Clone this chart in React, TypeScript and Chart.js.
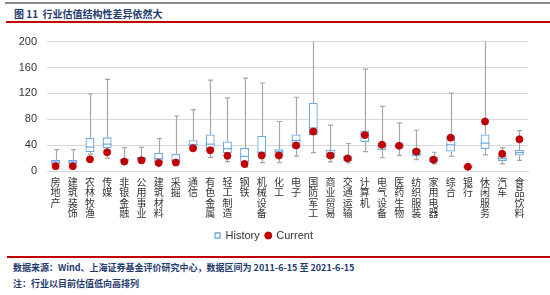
import React, { useEffect, useRef } from "react";
import { Chart, registerables } from "chart.js";

Chart.register(...registerables);

const categories = ["房地产","建筑装饰","农林牧渔","传媒","非银金融","公用事业","建筑材料","采掘","通信","有色金属","轻工制造","钢铁","机械设备","化工","电子","国防军工","商业贸易","交通运输","计算机","电气设备","医药生物","纺织服装","家用电器","综合","银行","休闲服务","汽车","食品饮料"];
const maxValues = [33,33,119,141.5,36,36.5,50,85,95,140.5,113,143.5,136,76.5,114,210,71,42.5,157.5,100,74.5,63,29,120.5,8.5,210,36,62.5];
const q3Values = [17.5,17,51,52,19,21.5,28,26.5,47.5,56.5,45.5,35.5,54.5,33.5,56.5,105,33,23,62.5,44,43,34,21.5,54,7.5,56.5,23,32.5];
const medianValues = [14,14,37,41.5,17,19,19,16.5,41,41.5,34.5,22.5,29,29.5,47,66.5,27.5,19.5,58,39,39,26.5,17.5,40.5,6.5,43,19,28.5];
const q1Values = [10,10.5,29,35,15,16.5,13,14,36.5,34,27.5,13,25,23.5,35,55.5,20,15.5,45,32.5,35,23,14,30,5,34,15,24];
const minValues = [8,8,26,20,14,14,12,12,33,21,14.5,5.5,13,13,23,28.5,14,12.5,30,20.5,24,17.5,11,22.5,5,25,11,16.5];
const currentValues = [7.5,7.5,18,29,14.5,16.5,12.5,13,35,32,23.5,11,24,24,39.5,61,24,19.5,55.5,40.5,39,30,17.5,51.5,6.5,76.5,26.5,49];
const yTicks = [0,20,40,60,80,100,120,140,160,180,200];

const BLUE = "#6FA8DC";
const RED = "#C00000";
const WHISKER = "#A6A6A6";

const boxPlugin = {
  id: "boxWhiskers",
  beforeDatasetsDraw(chart: any) {
    const { ctx, chartArea } = chart;
    const x = chart.scales.x;
    const y = chart.scales.y;
    ctx.save();
    ctx.beginPath();
    ctx.rect(chartArea.left, chartArea.top, chartArea.right - chartArea.left, chartArea.bottom - chartArea.top);
    ctx.clip();
    ctx.strokeStyle = WHISKER;
    ctx.lineWidth = 1.2;
    categories.forEach((_, i) => {
      const cx = Math.round(x.getPixelForValue(i)) + 0.5;
      const yMax = y.getPixelForValue(maxValues[i]);
      const yQ3 = y.getPixelForValue(q3Values[i]);
      const yQ1 = y.getPixelForValue(q1Values[i]);
      const yMin = y.getPixelForValue(minValues[i]);
      ctx.beginPath();
      ctx.moveTo(cx, yMax);
      ctx.lineTo(cx, yQ3);
      ctx.moveTo(cx, yQ1);
      ctx.lineTo(cx, yMin);
      ctx.moveTo(cx - 2.5, yMax);
      ctx.lineTo(cx + 2.5, yMax);
      ctx.moveTo(cx - 2.5, yMin);
      ctx.lineTo(cx + 2.5, yMin);
      ctx.stroke();
    });
    ctx.restore();
  },
  afterDatasetDraw(chart: any, args: any) {
    if (args.index !== 0) return;
    const { ctx } = chart;
    const x = chart.scales.x;
    const y = chart.scales.y;
    const meta = chart.getDatasetMeta(0);
    ctx.save();
    ctx.strokeStyle = BLUE;
    ctx.lineWidth = 1.2;
    categories.forEach((_, i) => {
      const bar = meta.data[i];
      const half = bar.width / 2;
      const cx = x.getPixelForValue(i);
      const ym = y.getPixelForValue(medianValues[i]);
      ctx.beginPath();
      ctx.moveTo(cx - half, ym);
      ctx.lineTo(cx + half, ym);
      ctx.stroke();
    });
    ctx.restore();
  },
};

function ChartBox() {
  const ref = useRef<HTMLCanvasElement | null>(null);
  useEffect(() => {
    if (!ref.current) return;
    const chart = new Chart(ref.current, {
      type: "bar",
      data: {
        labels: categories.map((c) => c.split("")),
        datasets: [
          {
            type: "bar",
            label: "History",
            data: categories.map((_, i) => [q1Values[i], q3Values[i]]),
            backgroundColor: "#FFFFFF",
            borderColor: BLUE,
            borderWidth: 1.3,
            borderSkipped: false,
            barPercentage: 0.52,
            categoryPercentage: 1,
            pointStyle: "rect",
            order: 2,
          } as any,
          {
            type: "line",
            label: "Current",
            data: currentValues,
            showLine: false,
            pointStyle: "circle",
            pointRadius: 3.5,
            pointBackgroundColor: RED,
            pointBorderColor: RED,
            backgroundColor: RED,
            borderColor: RED,
            order: 1,
          } as any,
        ],
      },
      options: {
        animation: false,
        responsive: false,
        maintainAspectRatio: false,
        layout: { padding: { top: 7.4, right: 22, left: 0, bottom: 2 } },
        plugins: {
          tooltip: { enabled: false },
          legend: {
            position: "bottom",
            labels: {
              usePointStyle: true,
              boxWidth: 5,
              boxHeight: 5,
              padding: 6,
              color: "#333333",
              font: { family: "Liberation Sans", size: 11 },
              sort: (a: any, b: any) => a.datasetIndex - b.datasetIndex,
            },
          },
        },
        scales: {
          x: {
            grid: { display: false, drawTicks: false },
            border: { display: true, color: "#D9D9D9" },
            ticks: {
              autoSkip: false,
              maxRotation: 0,
              minRotation: 0,
              padding: 6,
              color: "#333333",
              font: { family: "Noto Sans CJK SC", size: 10, lineHeight: 1.04 },
            },
            afterFit(scale: any) {
              scale.height = 53;
            },
          },
          y: {
            min: 0,
            max: 200,
            afterBuildTicks(scale: any) {
              scale.ticks = yTicks.map((v) => ({ value: v }));
            },
            grid: { color: "#D9D9D9", drawTicks: false, lineWidth: 1 },
            border: { display: false },
            ticks: {
              padding: 10,
              color: "#333333",
              font: { family: "Liberation Sans", size: 11 },
            },
            afterFit(scale: any) {
              scale.width = 47;
            },
          },
        },
      },
      plugins: [boxPlugin],
    } as any);
    return () => chart.destroy();
  }, []);
  return <canvas ref={ref} width={550} height={228} style={{ position: "absolute", left: 0, top: 25, width: 550, height: 228 }} />;
}

export default function App() {
  useEffect(() => {
    document.body.style.margin = "0";
  }, []);
  const titleColor = "#1F3A6E";
  return (
    <div style={{ position: "fixed", left: 0, top: 0, width: 550, height: 295, background: "#FFFFFF", overflow: "hidden" }}>
      <div style={{ position: "absolute", left: 5, top: 2, width: 545, height: 2, background: "#8C8C8C" }} />
      <div style={{ position: "absolute", left: 14, top: 7, fontFamily: "Noto Sans CJK SC", fontWeight: 700, fontSize: 10, lineHeight: "14px", color: titleColor, whiteSpace: "nowrap" }}>
        图 11&nbsp;&nbsp;行业估值结构性差异依然大
      </div>
      <div style={{ position: "absolute", left: 6, top: 21, width: 544, height: 2, background: RED }} />
      <ChartBox />
      <div style={{ position: "absolute", left: 7, top: 256, width: 543, height: 2, background: RED }} />
      <div style={{ position: "absolute", left: 13, top: 261, fontFamily: "Noto Sans CJK SC", fontWeight: 700, fontSize: 9, lineHeight: "13px", color: titleColor, whiteSpace: "nowrap" }}>
        数据来源：Wind、上海证券基金评价研究中心，数据区间为 2011-6-15 至 2021-6-15
      </div>
      <div style={{ position: "absolute", left: 13, top: 277, fontFamily: "Noto Sans CJK SC", fontWeight: 700, fontSize: 9, lineHeight: "13px", color: titleColor, whiteSpace: "nowrap" }}>
        注：行业以目前估值低向高排列
      </div>
    </div>
  );
}
